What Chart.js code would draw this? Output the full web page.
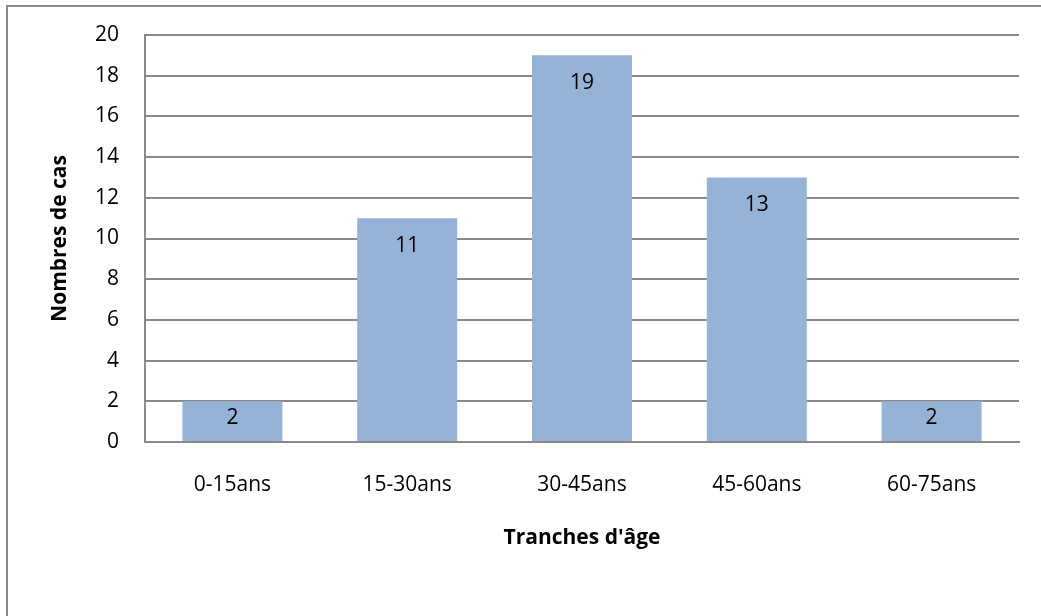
<!DOCTYPE html>
<html>
<head>
<meta charset="utf-8">
<script src="https://cdn.jsdelivr.net/npm/chart.js@4/dist/chart.umd.min.js"></script>
<style>
  html, body { margin: 0; padding: 0; background: #fff; overflow: hidden; }
  #wrap { width: 1041px; height: 616px; position: relative; }
</style>
</head>
<body>
<div id="wrap"><canvas id="ageChart" width="1041" height="616"></canvas></div>
<script>
const ageGroups = ['0-15ans', '15-30ans', '30-45ans', '45-60ans', '60-75ans'];
const caseCounts = [2, 11, 19, 13, 2];
const yTicks = [0, 2, 4, 6, 8, 10, 12, 14, 16, 18, 20];

const FONT = "'Open Sans', 'Liberation Sans', sans-serif";
const GRID = '#898989';
const BAR = '#95b3d7';

// outer chart frame (left and top edges only, the rest runs off the canvas)
const frame = {
    id: 'frame',
    beforeDraw(chart) {
        const c = chart.ctx;
        c.save();
        c.strokeStyle = GRID;
        c.lineWidth = 2;
        c.beginPath();
        c.moveTo(7, 640);
        c.lineTo(7, 6);
        c.lineTo(1060, 6);
        c.stroke();
        c.restore();
    }
};

// value labels just inside the top of each bar
const valueLabels = {
    id: 'valueLabels',
    afterDatasetsDraw(chart) {
        const c = chart.ctx;
        const meta = chart.getDatasetMeta(0);
        c.save();
        c.font = '21px ' + FONT;
        c.fillStyle = '#000';
        c.textAlign = 'center';
        c.textBaseline = 'middle';
        meta.data.forEach((bar, i) => {
            const y = Math.min(bar.y + 28, bar.base - 23);
            c.fillText(String(caseCounts[i]), bar.x, y);
        });
        c.restore();
    }
};

new Chart(document.getElementById('ageChart'), {
    type: 'bar',
    data: {
        labels: ageGroups,
        datasets: [{
            data: caseCounts,
            backgroundColor: BAR,
            borderWidth: 0,
            barPercentage: 0.572,
            categoryPercentage: 1
        }]
    },
    options: {
        responsive: false,
        animation: false,
        devicePixelRatio: 1,
        layout: { padding: { top: 35, right: 22, left: 0, bottom: 0 } },
        plugins: {
            legend: { display: false },
            tooltip: { enabled: false }
        },
        scales: {
            x: {
                afterFit(scale) {
                    scale.height = 174;
                    scale.paddingLeft = 0;
                    scale.paddingRight = 0;
                },
                grid: { display: false, drawTicks: false },
                border: { display: true, color: GRID, width: 2 },
                ticks: {
                    color: '#000',
                    font: { family: FONT, size: 21 },
                    padding: 30,
                    maxRotation: 0
                },
                title: {
                    display: true,
                    text: "Tranches d'âge",
                    color: '#000',
                    font: { family: FONT, size: 21, weight: 'bold' },
                    padding: { top: 0, bottom: 65 }
                }
            },
            y: {
                min: 0,
                max: 20,
                afterFit(scale) {
                    scale.width = 145;
                    scale.paddingTop = 0;
                    scale.paddingBottom = 0;
                },
                afterBuildTicks(scale) { scale.ticks = yTicks.map(v => ({ value: v })); },
                grid: { color: GRID, lineWidth: 2, drawTicks: false },
                border: { display: true, color: GRID, width: 2 },
                ticks: {
                    color: '#000',
                    font: { family: FONT, size: 21 },
                    padding: 26
                },
                title: {
                    display: true,
                    text: 'Nombres de cas',
                    color: '#000',
                    font: { family: FONT, size: 21, weight: 'bold' },
                    padding: { top: 47, bottom: 0 }
                }
            }
        }
    },
    plugins: [frame, valueLabels]
});
</script>
</body>
</html>
